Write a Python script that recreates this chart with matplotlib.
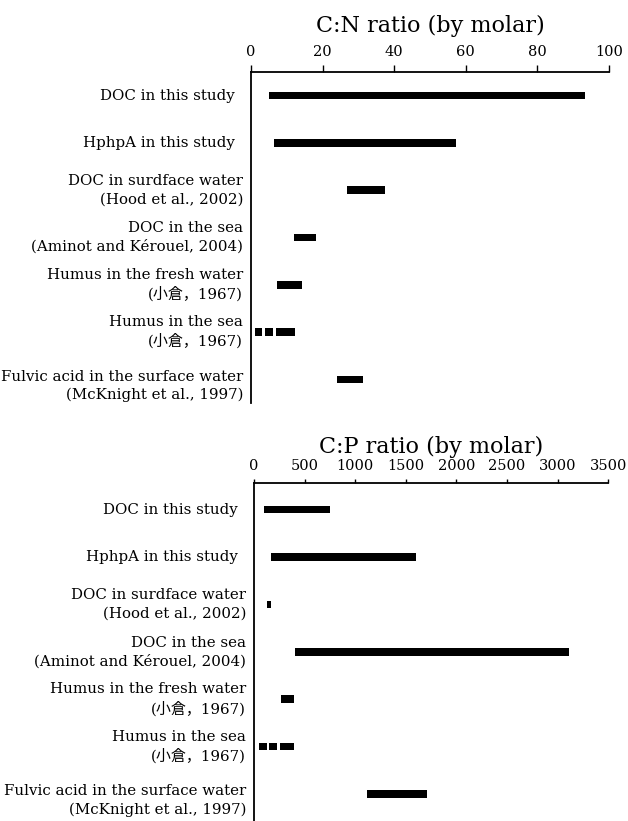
#C:N and C:P ratio ranges compared with literature values
import matplotlib
matplotlib.use('Agg')
import matplotlib.pyplot as plt
import matplotlib.transforms as mtransforms

plt.rcParams['font.family'] = ['DejaVu Serif', 'Noto Sans CJK JP']

labels = ['DOC in this study',
          'HphpA in this study',
          'DOC in surdface water\n(Hood et al., 2002)',
          'DOC in the sea\n(Aminot and Kérouel, 2004)',
          'Humus in the fresh water\n(小倉，1967)',
          'Humus in the sea\n(小倉，1967)',
          'Fulvic acid in the surface water\n(McKnight et al., 1997)']

#ranges (low, high) for each row, Humus in the sea has 3 pieces
cn_ranges = [[(5.0, 93.3)],
             [(6.5, 57.3)],
             [(26.9, 37.3)],
             [(12.0, 18.2)],
             [(7.2, 14.2)],
             [(1.2, 3.2), (3.9, 6.2), (7.0, 12.3)],
             [(24.1, 31.4)]]

cp_ranges = [[(99, 751)],
             [(171, 1601)],
             [(125, 165)],
             [(405, 3113)],
             [(264, 395)],
             [(52, 131), (151, 230), (257, 398)],
             [(1117, 1713)]]

cn_ticks = [0, 20, 40, 60, 80, 100]
cp_ticks = [0, 500, 1000, 1500, 2000, 2500, 3000, 3500]

W, H = 628, 821
fig = plt.figure(figsize=(W / 100, H / 100), dpi=100)

def draw_panel(rect, ranges, ticks, title, title_y, ylim, ticklen):
    ax = fig.add_axes(rect)
    for i, segs in enumerate(ranges):
        for lo, hi in segs:
            ax.barh(i, hi - lo, left=lo, height=0.16, color='black')
    ax.set_xlim(ticks[0], ticks[-1])
    ax.set_ylim(ylim)
    ax.xaxis.tick_top()
    ax.set_xticks(ticks)
    ax.tick_params(axis='x', direction='out', length=ticklen, width=1,
                   labelsize=10.5, pad=4)
    ax.set_yticks([])
    for s in ['right', 'bottom']:
        ax.spines[s].set_visible(False)
    for s in ['left', 'top']:
        ax.spines[s].set_linewidth(1.3)
    ax.patch.set_alpha(0)

    #row labels left of the axis
    trans = mtransforms.blended_transform_factory(ax.transAxes, ax.transData)
    for i, lab in enumerate(labels):
        multi = '\n' in lab
        pad = 8 if multi else 16
        off = mtransforms.offset_copy(trans, fig=fig, x=-pad * 0.72, y=0, units='points')
        yy = i + (0.14 if i == len(labels) - 1 else 0)
        ax.text(0, yy, lab, transform=off, ha='right', va='center',
                fontsize=10.8, linespacing=1.38)
    ax.text(0.5, title_y, title, transform=ax.transAxes, ha='center',
            va='center', fontsize=16)
    return ax

draw_panel([251 / W, 1 - 403 / H, 358 / W, 331 / H], cn_ranges, cn_ticks,
           'C:N ratio (by molar)', 1 + 46 / 331, (6.5, -0.5), 5)
draw_panel([254 / W, 0, 354.3 / W, 1 - 482.7 / H], cp_ranges, cp_ticks,
           'C:P ratio (by molar)', 1 + 36 / 338.3, (6.57, -0.57), 3)

fig.savefig('out.png', dpi=100)
